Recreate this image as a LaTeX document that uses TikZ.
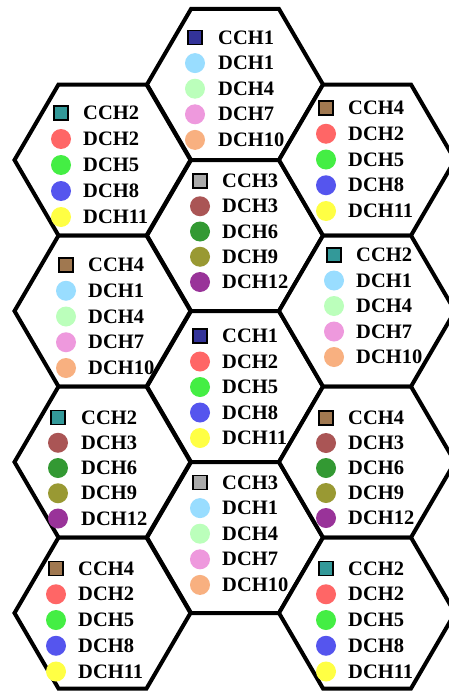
\documentclass[tikz,border=0pt]{standalone}
\usepackage{fontspec}
\setmainfont{Liberation Serif}
\definecolor{cch1}{HTML}{333399}
\definecolor{cch2}{HTML}{339999}
\definecolor{cch3}{HTML}{AAAAAA}
\definecolor{cch4}{HTML}{A07850}
\definecolor{dch1}{HTML}{99DDFF}
\definecolor{dch2}{HTML}{FF6666}
\definecolor{dch3}{HTML}{AA5555}
\definecolor{dch4}{HTML}{BBFFBB}
\definecolor{dch5}{HTML}{44EE44}
\definecolor{dch6}{HTML}{339933}
\definecolor{dch7}{HTML}{EE99DD}
\definecolor{dch8}{HTML}{5555EE}
\definecolor{dch9}{HTML}{999933}
\definecolor{dch10}{HTML}{F8B080}
\definecolor{dch11}{HTML}{FFFF44}
\definecolor{dch12}{HTML}{993399}
\tikzset{
  hexline/.style={draw=black, line width=4pt, fill=white},
  sqmark/.style={draw=black, line width=1.4pt, minimum size=14pt, inner sep=0pt},
  dotmark/.style={circle, minimum size=20pt, inner sep=0pt},
  lab/.style={anchor=west, inner sep=0pt, font=\fontsize{20.5}{24}\selectfont\bfseries}
}
\newcommand\hexcell[2]{%
  \draw[hexline] (#1-88,#2) -- (#1-44,#2-75.5) -- (#1+44,#2-75.5) -- (#1+88,#2)
    -- (#1+44,#2+75.5) -- (#1-44,#2+75.5) -- cycle;}
% #1 name, #2 marker x, #3 text x, #4 first row y, #5 spacing, #6 cch number, #7 dch group
\newcommand\cellcontent[7]{%
  \node[sqmark, fill=cch#6] (#1-m0) at (#2,#4) {};
  \node[lab] (#1-t0) at (#3,#4) {CCH#6};
  \foreach \k in {1,2,3,4} {%
    \pgfmathtruncatemacro\dd{#7+3*(\k-1)}%
    \node[dotmark, fill=dch\dd] (#1-m\k) at (#2,{#4+\k*#5}) {};
    \node[lab] (#1-t\k) at (#3,{#4+\k*#5}) {DCH\dd};
  }}
\begin{document}
\begin{tikzpicture}[x=1pt,y=-1pt]
\useasboundingbox (0,0) rectangle (449,693);
\clip (0,0) rectangle (449,693);
% hexagons
\hexcell{235}{84.5}
\hexcell{235}{235.5}
\hexcell{235}{386.5}
\hexcell{235}{537.5}
\hexcell{102.5}{160}
\hexcell{102.5}{311}
\hexcell{102.5}{462}
\hexcell{102.5}{613}
\hexcell{367}{160}
\hexcell{367}{311}
\hexcell{367}{462}
\hexcell{367}{613}
% contents
\cellcontent{A}{195}{218}{37.5}{25.6}{1}{1}
\cellcontent{B}{61}{83}{113}{26}{2}{2}
\cellcontent{C}{326}{348}{108}{25.75}{4}{2}
\cellcontent{D}{200}{222}{181}{25.25}{3}{3}
\cellcontent{E}{66}{88}{265}{25.75}{4}{1}
\cellcontent{F}{334}{356}{255}{25.5}{2}{1}
\cellcontent{G}{200}{222}{336}{25.5}{1}{2}
\cellcontent{H}{58}{81}{417.5}{25.25}{2}{3}
\cellcontent{I}{326}{348}{418}{25}{4}{3}
\cellcontent{J}{200}{222}{482.5}{25.6}{3}{1}
\cellcontent{K}{56}{78}{568.5}{25.75}{4}{2}
\cellcontent{L}{326}{348}{568.5}{25.75}{2}{2}
\end{tikzpicture}
\end{document}
